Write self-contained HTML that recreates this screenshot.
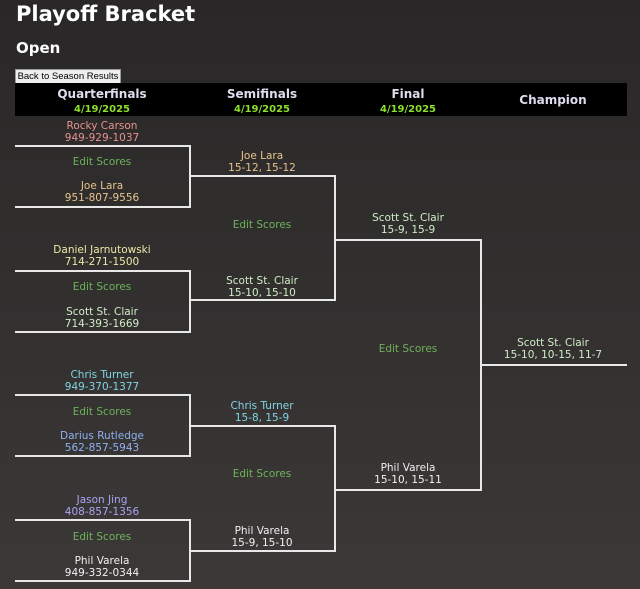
<!DOCTYPE html>
<html><head><style>
body{margin:0;width:640px;height:589px;overflow:hidden;background:linear-gradient(#292727,#3b3837);font-family:"DejaVu Sans",Verdana,sans-serif;color:#fff;position:relative}
.a{position:absolute}
.t{position:absolute;width:200px;margin-left:-100px;text-align:center;font-size:10.5px;line-height:12px;white-space:nowrap;margin-top:1px}
.h{position:absolute;height:2px;background:#e8e8e8}
.v{position:absolute;width:2px;background:#e8e8e8}
.g{color:#6db35a}
.hd{position:absolute;width:200px;margin-left:-100px;text-align:center;font-weight:bold;font-size:12px;color:#dde;line-height:14px}
.d{color:#8ae02a;font-size:10px}
</style></head><body>
<div class="a" style="left:16px;top:2px;font-size:21px;font-weight:bold;font-family:'DejaVu Sans',sans-serif">Playoff Bracket</div>
<div class="a" style="left:16px;top:39px;font-size:15px;font-weight:bold">Open</div>
<div class="a" style="left:15px;top:69px;width:104px;height:13px;background:#eee;border:1px solid #999;color:#000;font-family:'Liberation Sans',sans-serif;font-size:9.5px;line-height:13px;text-align:center;white-space:nowrap;overflow:hidden">Back to Season Results</div>
<div class="a" style="left:15px;top:83px;width:612px;height:33px;background:#000"></div>
<div class="hd" style="left:102px;top:87px">Quarterfinals<br><span class="d">4/19/2025</span></div>
<div class="hd" style="left:262px;top:87px">Semifinals<br><span class="d">4/19/2025</span></div>
<div class="hd" style="left:408px;top:87px">Final<br><span class="d">4/19/2025</span></div>
<div class="hd" style="left:553px;top:93px">Champion</div>

<div class="h" style="left:15px;top:145px;width:176px"></div><div class="v" style="left:189px;top:145px;height:63px"></div><div class="h" style="left:15px;top:206px;width:176px"></div>
<div class="h" style="left:15px;top:270px;width:176px"></div><div class="v" style="left:189px;top:270px;height:63px"></div><div class="h" style="left:15px;top:331px;width:176px"></div>
<div class="h" style="left:15px;top:394px;width:176px"></div><div class="v" style="left:189px;top:394px;height:63px"></div><div class="h" style="left:15px;top:455px;width:176px"></div>
<div class="h" style="left:15px;top:519px;width:176px"></div><div class="v" style="left:189px;top:519px;height:63px"></div><div class="h" style="left:15px;top:580px;width:176px"></div>

<div class="h" style="left:190px;top:175px;width:146px"></div><div class="v" style="left:334px;top:175px;height:126px"></div><div class="h" style="left:190px;top:299px;width:146px"></div>
<div class="h" style="left:190px;top:425px;width:146px"></div><div class="v" style="left:334px;top:425px;height:127px"></div><div class="h" style="left:190px;top:550px;width:146px"></div>
<div class="h" style="left:335px;top:239px;width:147px"></div><div class="v" style="left:480px;top:239px;height:252px"></div><div class="h" style="left:335px;top:489px;width:147px"></div>
<div class="h" style="left:481px;top:364px;width:146px"></div>

<div class="t" style="left:102px;top:119px;color:#e89090">Rocky Carson<br>949-929-1037</div>
<div class="t g" style="left:102px;top:155px">Edit Scores</div>
<div class="t" style="left:102px;top:179px;color:#e6c48e">Joe Lara<br>951-807-9556</div>
<div class="t" style="left:102px;top:243px;color:#ece8a8">Daniel Jarnutowski<br>714-271-1500</div>
<div class="t g" style="left:102px;top:280px">Edit Scores</div>
<div class="t" style="left:102px;top:305px;color:#d0ecc8">Scott St. Clair<br>714-393-1669</div>
<div class="t" style="left:102px;top:368px;color:#80d4e4">Chris Turner<br>949-370-1377</div>
<div class="t g" style="left:102px;top:405px">Edit Scores</div>
<div class="t" style="left:102px;top:429px;color:#90b0f0">Darius Rutledge<br>562-857-5943</div>
<div class="t" style="left:102px;top:493px;color:#a8a4f4">Jason Jing<br>408-857-1356</div>
<div class="t g" style="left:102px;top:530px">Edit Scores</div>
<div class="t" style="left:102px;top:554px;color:#f0f0f0">Phil Varela<br>949-332-0344</div>

<div class="t" style="left:262px;top:149px;color:#e6c48e">Joe Lara<br>15-12, 15-12</div>
<div class="t g" style="left:262px;top:218px">Edit Scores</div>
<div class="t" style="left:262px;top:274px;color:#d0ecc8">Scott St. Clair<br>15-10, 15-10</div>
<div class="t" style="left:262px;top:399px;color:#80d4e4">Chris Turner<br>15-8, 15-9</div>
<div class="t g" style="left:262px;top:467px">Edit Scores</div>
<div class="t" style="left:262px;top:524px;color:#f0f0f0">Phil Varela<br>15-9, 15-10</div>

<div class="t" style="left:408px;top:211px;color:#d0ecc8">Scott St. Clair<br>15-9, 15-9</div>
<div class="t g" style="left:408px;top:342px">Edit Scores</div>
<div class="t" style="left:408px;top:461px;color:#f0f0f0">Phil Varela<br>15-10, 15-11</div>
<div class="t" style="left:553px;top:336px;color:#d0ecc8">Scott St. Clair<br>15-10, 10-15, 11-7</div>
</body></html>
